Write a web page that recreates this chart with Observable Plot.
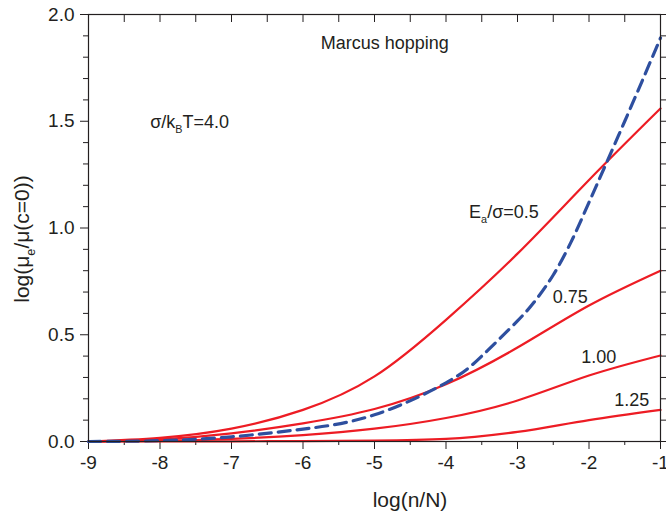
<!DOCTYPE html>
<html><head><meta charset="utf-8">
<script src="https://cdn.jsdelivr.net/npm/d3@7"></script>
<script src="https://cdn.jsdelivr.net/npm/@observablehq/plot@0.6"></script>
<style>
body{margin:0;background:#fff}
svg{font-family:"Liberation Sans",Arial,Helvetica,sans-serif}
</style>
</head><body><div id="chart"></div>
<script>
// x values: log(n/N)
const logN = [-9,-8,-7,-6,-5,-4,-3,-2,-1];
// red curves, Ea/sigma = 0.5, 0.75, 1.00, 1.25
const ea050 = [0,0.017,0.06,0.148,0.305,0.57,0.88,1.225,1.56];
const ea075 = [0,0.01,0.038,0.085,0.152,0.268,0.44,0.637,0.80];
const ea100 = [0,0.003,0.012,0.03,0.06,0.11,0.192,0.309,0.403];
const ea125 = [0,0,0.001,0.002,0.004,0.012,0.045,0.10,0.148];
// blue dashed curve
const dashX = [-9,-8,-7,-6,-5,-4,-3.5,-3,-2.75,-2.5,-2.25,-2,-1.5,-1];
const dashY = [0,0.004,0.022,0.058,0.125,0.275,0.40,0.565,0.66,0.78,0.935,1.12,1.50,1.89];

const xMajor = [-9,-8,-7,-6,-5,-4,-3,-2,-1];
const xMinor = [-8.5,-7.5,-6.5,-5.5,-4.5,-3.5,-2.5,-1.5];
const yMajor = [0,0.5,1.0,1.5,2.0];
const yMinor = [0.1,0.2,0.3,0.4,0.6,0.7,0.8,0.9,1.1,1.2,1.3,1.4,1.6,1.7,1.8,1.9];
const yAll = d3.range(0,21).map(i=>i/10);

const series = [
  {name:"0.5", y: ea050},
  {name:"0.75", y: ea075},
  {name:"1.00", y: ea100},
  {name:"1.25", y: ea125}
];
const redRows = series.filter(s => s.name !== "1.25").flatMap(s => logN.map((x,i)=>({series:s.name, x, y:s.y[i]})));
const redRows125 = logN.map((x,i)=>({series:"1.25", x, y:ea125[i]}));
const blueRows = dashX.map((x,i)=>({x, y:dashY[i]}));

const RED = "#ed1c24", BLUE = "#2e4f9f";
const FS = 19, FT = 21, FA = 18;

const plot = Plot.plot({
  width: 666, height: 515,
  marginLeft: 88, marginRight: 6, marginTop: 14, marginBottom: 74,
  style: {fontFamily: '"Liberation Sans",Arial,sans-serif', fontSize: FS+"px", background:"#fff", color:"#231f20"},
  x: {domain:[-9,-1]},
  y: {domain:[0,2]},
  marks: [
    Plot.axisX(xMajor, {tickSize: 8, tickPadding: 6, tickFormat: d => String(d), fontSize: FS, label: null, stroke:"#231f20"}),
    Plot.axisX(xMinor, {tickSize: 4, tickFormat: () => "", label: null, stroke:"#231f20"}),
    Plot.axisX(xMajor.concat(xMinor), {anchor:"top", tickSize: -7, tickFormat: () => "", label: null, stroke:"#231f20"}),
    Plot.axisY(yMajor, {tickSize: 8, tickPadding: 6, tickFormat: d3.format(".1f"), fontSize: FS, label: null, stroke:"#231f20"}),
    Plot.axisY(yMinor, {tickSize: 5, tickFormat: () => "", label: null, stroke:"#231f20"}),
    Plot.axisY(yAll, {anchor:"right", tickSize: 5, tickFormat: () => "", label: null, stroke:"#231f20"}),
    Plot.line(redRows, {x:"x", y:"y", z:"series", stroke: RED, strokeWidth: 2.2, curve:"natural"}),
    Plot.line(redRows125, {x:"x", y:"y", stroke: RED, strokeWidth: 2.2, curve:"monotone-x"}),
    Plot.line(blueRows, {x:"x", y:"y", stroke: BLUE, strokeWidth: 3.2, strokeDasharray:"12,7", curve:"natural"}),
    Plot.frame({stroke:"#231f20", strokeWidth: 1.2})
  ]
});
document.getElementById("chart").appendChild(plot);

const sx = plot.scale("x"), sy = plot.scale("y");
const svg = d3.select(plot);
const col = "#231f20";

function label(parts, x, y, anchor, size) {
  const s = size || FA;
  const t = svg.append("text")
    .attr("x", x).attr("y", y)
    .attr("text-anchor", anchor || "start")
    .attr("fill", col)
    .attr("font-size", s + "px");
  parts.forEach(p => {
    const ts = t.append("tspan").text(p.t);
    if (p.sub) ts.attr("font-size", (s*0.6) + "px").attr("dy", "0.45em");
    if (p.back) ts.attr("dy", "-0.27em");
  });
  return t;
}

// annotations placed through the plot scales (data coordinates)
label([{t:"Marcus hopping"}], sx.apply(-4.85), sy.apply(1.835), "middle");
label([{t:"σ/k"},{t:"B", sub:true},{t:"T=4.0", back:true}], sx.apply(-8.13), sy.apply(1.465));
label([{t:"E"},{t:"a", sub:true},{t:"/σ=0.5", back:true}], sx.apply(-3.67), sy.apply(1.045));
label([{t:"0.75"}], sx.apply(-2.5), sy.apply(0.645));
label([{t:"1.00"}], sx.apply(-2.1), sy.apply(0.365));
label([{t:"1.25"}], sx.apply(-1.64), sy.apply(0.162));

// axis titles
label([{t:"log(n/N)"}], 410, 507, "middle", FT);
const yt = svg.append("text")
  .attr("transform", "translate(29,239) rotate(-90)")
  .attr("text-anchor", "middle").attr("fill", col).attr("font-size", FT+"px");
yt.append("tspan").text("log(μ");
yt.append("tspan").text("e").attr("font-size", (FT*0.6)+"px").attr("dy","0.45em");
yt.append("tspan").text("/μ(c=0))").attr("dy","-0.27em");
</script>
</body></html>
